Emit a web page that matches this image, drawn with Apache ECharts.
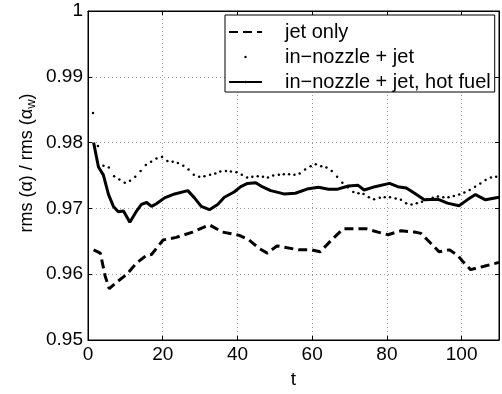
<!DOCTYPE html>
<html lang="en">
<head>
    <meta charset="UTF-8">
    <title>rms ratio</title>
    <style>
        html,body{
            margin: 0;
            padding: 0;
            background: #fff;
        }
        #chart{
            width: 502px;
            height: 394px;
        }
    </style>
</head>
<body>
    <div id="chart"></div>
<script src="https://cdn.jsdelivr.net/npm/echarts@6/dist/echarts.min.js"></script>
<script>
    // jet only (dashed)
    var tJet = [1.5, 3.3, 4.6, 5.7, 7.7, 10.4, 13, 15.7, 17, 20.1, 23.6, 28, 32.5, 36, 40.5, 43.1, 45.8, 48, 50.6,
        56.4, 59.9, 62.1, 65.2, 68.3, 72.3, 74.5, 77.6, 80.3, 83.8, 87.4, 89.1, 91.4, 94, 96.7, 98.9, 100.2,
        102.4, 106, 110];
    var vJet = [0.9637, 0.9632, 0.9597, 0.9578, 0.9588, 0.9600, 0.9617, 0.9629, 0.9630, 0.9652, 0.9656, 0.9664,
        0.9675, 0.9664, 0.9659, 0.9652, 0.9639, 0.9632, 0.9643, 0.9637, 0.9637, 0.9634, 0.9652, 0.9669, 0.9669,
        0.9669, 0.9664, 0.9660, 0.9666, 0.9664, 0.9662, 0.9649, 0.9634, 0.9637, 0.9629, 0.9620, 0.9607, 0.9612,
        0.9618];

    // in-nozzle + jet (dots)
    var tNoz = [1.33, 2.66, 4.14, 5.58, 6.99, 8.39, 9.83, 11.24, 12.64, 14.08, 15.48, 16.89, 18.33, 19.81, 21.25,
        22.66, 24.06, 25.5, 26.91, 28.31, 29.75, 31.16, 32.67, 34.08, 35.41, 36.92, 38.25, 39.73, 41.17, 42.58,
        43.98, 45.42, 46.83, 48.16, 49.56, 51.08, 52.4, 53.81, 55.25, 56.65, 58.11, 59.58, 60.98, 62.42, 63.82,
        65.23, 66.67, 68.07, 69.53, 71, 72.4, 73.73, 75.17, 76.57, 78.09, 79.42, 80.82, 82.34, 83.75, 85.15,
        86.59, 88, 89.4, 90.84, 92.25, 93.65, 95.09, 96.49, 97.9, 99.34, 100.74, 102.15, 103.59, 105, 106.4,
        107.84, 109.24];
    var vNoz = [0.9845, 0.9795, 0.9765, 0.9762, 0.9749, 0.9744, 0.9739, 0.9742, 0.9748, 0.9757, 0.9766, 0.9771,
        0.9776, 0.9778, 0.9772, 0.9771, 0.9769, 0.9765, 0.9759, 0.9751, 0.9748, 0.9749, 0.9751, 0.9753, 0.9756,
        0.9757, 0.9756, 0.9755, 0.9751, 0.9747, 0.9748, 0.9749, 0.9748, 0.9747, 0.9750, 0.9751, 0.9752, 0.9752,
        0.9751, 0.9753, 0.9759, 0.9764, 0.9767, 0.9764, 0.9762, 0.9757, 0.9748, 0.9739, 0.9732, 0.9725, 0.9723,
        0.9722, 0.9717, 0.9714, 0.9716, 0.9717, 0.9717, 0.9715, 0.9713, 0.9708, 0.9706, 0.9708, 0.9710, 0.9714,
        0.9716, 0.9718, 0.9717, 0.9717, 0.9719, 0.9721, 0.9724, 0.9728, 0.9733, 0.9738, 0.9743, 0.9747, 0.9748];

    // in-nozzle + jet, hot fuel (solid)
    var tHot = [1.5, 2.8, 4.1, 5.5, 6.8, 8.1, 9.5, 11.2, 13, 14.3, 15.7, 17, 18.3, 20.5, 23.2, 26.7, 28.5, 30.3,
        32.5, 34.7, 36.5, 39.1, 40.9, 42.7, 44.9, 46.6, 48.9, 51.1, 52.4, 55.5, 59, 61.7, 64.4, 66.6, 69.7, 72.3,
        73.9, 76.8, 80.7, 82.9, 85.2, 87.4, 90, 93.6, 96.2, 99.3, 101.5, 103.7, 106.4, 110];
    var vHot = [0.9800, 0.9763, 0.9751, 0.9721, 0.9703, 0.9695, 0.9696, 0.9679, 0.9696, 0.9706, 0.9709, 0.9703,
        0.9707, 0.9716, 0.9722, 0.9727, 0.9716, 0.9703, 0.9698, 0.9706, 0.9717, 0.9725, 0.9733, 0.9738, 0.9739,
        0.9733, 0.9727, 0.9724, 0.9722, 0.9723, 0.9730, 0.9732, 0.9729, 0.9729, 0.9734, 0.9735, 0.9728, 0.9733,
        0.9738, 0.9733, 0.9731, 0.9723, 0.9713, 0.9714, 0.9708, 0.9704, 0.9713, 0.9721, 0.9713, 0.9717];

    var names = ['jet only', 'in\u2212nozzle + jet', 'in\u2212nozzle + jet, hot fuel'];

    function pairs(t, v) {
        return t.map(function (x, i) { return [x, v[i]]; });
    }

    var font = 'Liberation Sans';
    var myChart = echarts.init(document.getElementById('chart'));

    var gridLine = { show: true, lineStyle: { color: '#999', type: [1, 3], width: 1 } };
    var inTick = { show: true, inside: true, length: 4, lineStyle: { color: '#000' } };
    var blackLine = { show: true, onZero: false, lineStyle: { color: '#000', width: 1 } };

    myChart.setOption({
        backgroundColor: '#fff',
        animation: false,
        grid: { left: 88, right: 1, top: 11, bottom: 45, show: true, borderColor: '#000', borderWidth: 1 },
        xAxis: [{
            type: 'value', min: 0, max: 110, interval: 20,
            name: 't', nameLocation: 'middle', nameGap: 30,
            nameTextStyle: { fontFamily: font, fontSize: 19, color: '#000' },
            axisLine: blackLine, axisTick: inTick, splitLine: gridLine,
            axisLabel: {
                fontFamily: font, fontSize: 19, color: '#000', margin: 5,
                formatter: function (v) { return v > 100 ? '' : String(v); }
            }
        }, {
            type: 'value', min: 0, max: 110, interval: 20, position: 'top',
            axisLine: blackLine, axisTick: inTick, axisLabel: { show: false }, splitLine: { show: false }
        }],
        yAxis: [{
            type: 'value', min: 0.95, max: 1, interval: 0.01,
            axisLine: blackLine, axisTick: inTick, splitLine: gridLine,
            axisLabel: {
                fontFamily: font, fontSize: 19, color: '#000', margin: 5,
                formatter: function (v) { return String(+v.toFixed(2)); }
            }
        }, {
            type: 'value', min: 0.95, max: 1, interval: 0.01, position: 'right',
            axisLine: blackLine, axisTick: inTick, axisLabel: { show: false }, splitLine: { show: false }
        }],
        legend: {
            orient: 'vertical', left: 225, top: 15,
            data: names,
            itemWidth: 33, itemHeight: 3, itemGap: 5,
            padding: [7, 4, 0, 3],
            borderColor: '#000', borderWidth: 1, backgroundColor: '#fff',
            textStyle: { fontFamily: font, fontSize: 20, color: '#000', lineHeight: 16, padding: [0, 0, 0, 18] }
        },
        graphic: [{
            type: 'text', x: 27, y: 163, rotation: Math.PI / 2,
            style: {
                text: 'rms (\u03b1) / rms (\u03b1{s|w})',
                font: '18px "Liberation Sans"', fill: '#000',
                textAlign: 'center', textVerticalAlign: 'middle',
                rich: { s: { fontSize: 13, fontFamily: font, verticalAlign: 'bottom', padding: [9, 0, 0, 0] } }
            }
        }],
        series: [{
            name: names[0], type: 'line', data: pairs(tJet, vJet),
            symbol: 'none', color: '#000',
            lineStyle: { color: '#000', width: 3, type: [9, 5] }
        }, {
            name: names[1], type: 'line', data: pairs(tNoz, vNoz),
            symbol: 'circle', symbolSize: 2.5, color: '#000',
            itemStyle: { color: '#000' },
            lineStyle: { width: 0, opacity: 0 }
        }, {
            name: names[2], type: 'line', data: pairs(tHot, vHot),
            symbol: 'none', color: '#000',
            lineStyle: { color: '#000', width: 3 }
        }]
    });
</script>
</body>
</html>
